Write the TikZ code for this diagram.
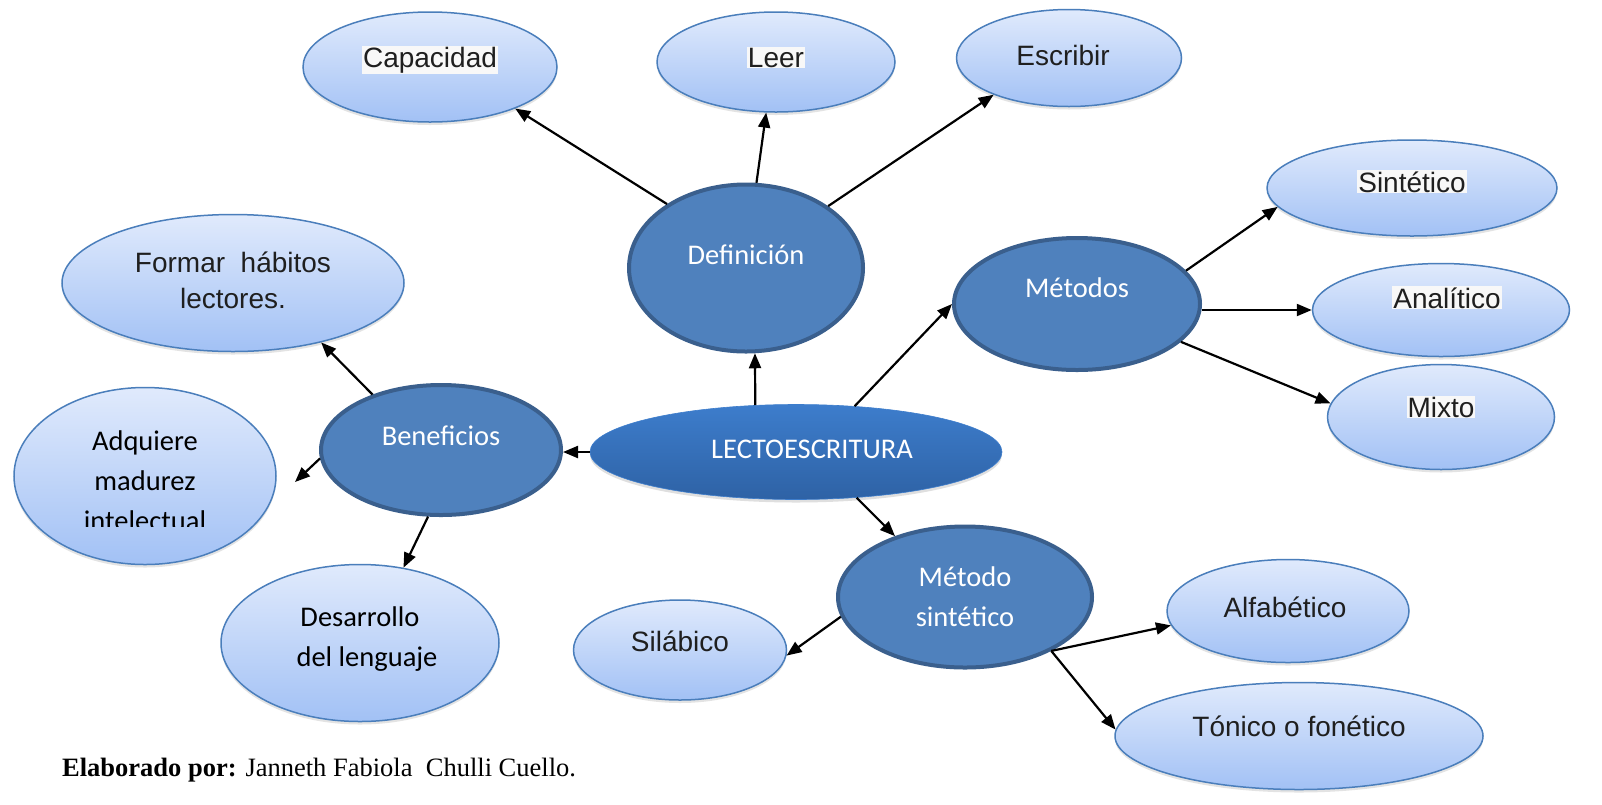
\documentclass[tikz,border=0pt]{standalone}
\usepackage{fontspec}
\setmainfont{Liberation Serif}
\newfontfamily\arialf{Liberation Sans}
\newfontfamily\calf{Carlito}
\usetikzlibrary{shapes.geometric,arrows.meta,shadows}
\definecolor{ltop}{HTML}{E0EAFC}
\definecolor{lbot}{HTML}{A2C1F5}
\definecolor{lborder}{HTML}{4A7EBB}
\definecolor{dfill}{HTML}{4F81BD}
\definecolor{dborder}{HTML}{3A5F8D}
\definecolor{ctop}{HTML}{3D7DCC}
\definecolor{cbot}{HTML}{2E62A5}
\definecolor{hl}{HTML}{F8F8F8}
\begin{document}
\begin{tikzpicture}[x=1pt,y=-1pt,
  lightell/.style={ellipse, inner sep=0pt, draw=lborder, line width=1.5pt,
    top color=ltop, bottom color=lbot,
    drop shadow={opacity=0.22,shadow xshift=0pt,shadow yshift=-3pt}},
  darkell/.style={ellipse, inner sep=0pt, draw=dborder, line width=4pt, fill=dfill},
  coreell/.style={ellipse, inner sep=0pt, top color=ctop, bottom color=cbot,
    draw=ctop, line width=0.6pt,
    drop shadow={opacity=0.25,shadow xshift=0pt,shadow yshift=-3pt}},
  sz/.style 2 args={minimum width=#1pt, minimum height=#2pt},
  atxt/.style={font=\arialf\fontsize{28}{34}\selectfont, text=black!88, anchor=base, inner sep=1pt},
  hltxt/.style={atxt, fill=hl},
  ctxt/.style={font=\calf\fontsize{28.5}{40}\selectfont, text=black, anchor=base, inner sep=0pt},
  wtxt/.style={ctxt, text=white},
  arr/.style={-{Triangle[length=15pt,width=12pt]}, line width=2.2pt, black}
]
\fill[white] (0,0) rectangle (1602,804);
\useasboundingbox (0,0) rectangle (1602,804);

% ellipses
\node[lightell, sz={254}{110}] (cap) at (430,67) {};
\node[lightell, sz={238}{100}] (leer) at (776,62) {};
\node[lightell, sz={225}{97}] (esc) at (1069,58) {};
\node[darkell, sz={234}{167}] (def) at (746,268) {};
\node[lightell, sz={290}{96}] (sint) at (1412,188) {};
\node[darkell, sz={246}{132}] (met) at (1077,304) {};
\node[lightell, sz={257}{93}] (ana) at (1441,310) {};
\node[lightell, sz={227}{105}] (mix) at (1441,417) {};
\node[lightell, sz={342}{137}] (formar) at (233,283) {};
\node[lightell, sz={262}{177}] (adq) at (145,476) {};
\node[darkell, sz={240}{130}] (ben) at (441,450) {};
\node[coreell, sz={412}{95}] (lecto) at (796,452) {};
\node[lightell, sz={278}{157}] (des) at (360,643) {};
\node[lightell, sz={213}{100}] (sil) at (680,650) {};
\node[darkell, sz={254}{141}] (ms) at (965,597) {};
\node[lightell, sz={242}{103}] (alf) at (1288,611) {};
\node[lightell, sz={368}{107}] (ton) at (1299,736) {};

% texts
\node[hltxt] (capT) at (430,67) {Capacidad};
\node[hltxt] (leerT) at (776,67) {Leer};
\node[atxt] (escT) at (1063,65) {Escribir};
\node[wtxt] (defT) at (746,264) {Definición};
\node[hltxt] (sintT) at (1412,192) {Sintético};
\node[wtxt] (metT) at (1077,297) {Métodos};
\node[hltxt] (anaT) at (1447,308) {Analítico};
\node[hltxt] (mixT) at (1441,417) {Mixto};
\node[atxt] (formarT1) at (233,272) {Formar\ \ hábitos};
\node[atxt] (formarT2) at (233,308) {lectores.};
\node[ctxt] (adqT1) at (145,450) {Adquiere};
\node[ctxt] (adqT2) at (145,490) {madurez};
\begin{scope}
\clip (0,500) rectangle (300,526);
\node[ctxt] (adqT3) at (145,530) {intelectual};
\end{scope}
\node[wtxt] (benT) at (441,445) {Beneficios};
\node[wtxt] (lectoT) at (812,458) {LECTOESCRITURA};
\node[ctxt] (desT1) at (360,626) {Desarrollo};
\node[ctxt] (desT2) at (367,666) {del lenguaje};
\node[atxt] (silT) at (680,651) {Silábico};
\node[wtxt] (msT1) at (965,586) {Método};
\node[wtxt] (msT2) at (965,626) {sintético};
\node[atxt] (alfT) at (1285,617) {Alfabético};
\node[atxt] (tonT) at (1299,736) {Tónico o fonético};

\node[anchor=base west, inner sep=0pt, font=\fontsize{26.5}{30}\selectfont] (cap_text) at (62,776)
  {\textbf{Elaborado por:} Janneth Fabiola\ \ Chulli Cuello.};

% connectors
\coordinate (adqtip) at (295,482);
\draw[arr] (def.141) -- (cap.-26);
\draw[arr] (def.83) -- (leer.-101);
\draw[arr] (def.37) -- (esc.-154);
\draw[arr] (lecto.131) -- (def.-84);
\draw[arr] (lecto.38) -- (met.180);
\draw[arr] (lecto.west) -- (lecto.west -| ben.east);
\draw[arr] (lecto.-37) -- (ms.139);
\draw[arr] (ben.141) -- (formar.-34);
\draw[arr] (ben.184) -- (adqtip);
\draw[arr] (ben.-101) -- (des.60);
\draw[arr] (met.17) -- (sint.188);
\draw[arr] (ana.west -| met.east) -- (ana.west);
\draw[arr] (met.-20) -- (mix.173);
\draw[arr] (ms.189) -- (sil.-3);
\draw[arr] (ms.-32) -- (alf.187);
\draw[arr] (ms.-32) -- (ton.178);
\end{tikzpicture}
\end{document}
